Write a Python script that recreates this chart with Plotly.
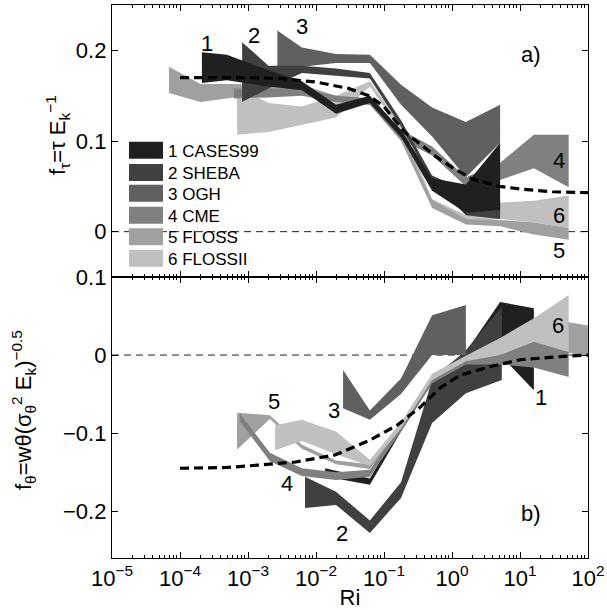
import plotly.graph_objects as go

# ---------------- data ----------------
names = ["1 CASES99", "2 SHEBA", "3 OGH", "4 CME", "5 FLOSS", "6 FLOSSII"]
colors = ["#202020", "#404040", "#606060", "#808080", "#a0a0a0", "#c0c0c0"]

# panel a) : f_tau bands (Ri, lower, upper)
a1_ri = [2.1e-4, 4.9e-4, 2.0e-3, 6.2e-3, 0.0197, 0.062, 0.178, 0.51, 1.6, 5.1]
a1_lo = [0.164, 0.167, 0.160, 0.156, 0.130, 0.142, 0.104, 0.045, 0.021, 0.024]
a1_hi = [0.198, 0.195, 0.178, 0.166, 0.140, 0.150, 0.112, 0.059, 0.052, 0.098]

a2_ri = [8.2e-4, 2.0e-3, 6.2e-3, 0.0197, 0.062, 0.178, 0.51, 1.6, 5.1]
a2_lo = [0.143, 0.158, 0.175, 0.172, 0.169, 0.116, 0.055, 0.018, 0.014]
a2_hi = [0.209, 0.183, 0.183, 0.180, 0.175, 0.123, 0.062, 0.045, 0.035]

a3_ri = [2.7e-3, 6.2e-3, 0.0197, 0.062, 0.178, 0.51, 1.6, 5.1]
a3_lo = [0.178, 0.182, 0.186, 0.186, 0.140, 0.105, 0.060, 0.098]
a3_hi = [0.222, 0.203, 0.196, 0.195, 0.162, 0.137, 0.121, 0.140]

a4_ri = [6.2e-4, 2.0e-3, 6.2e-3, 0.0197, 0.062, 0.178, 0.51, 1.6, 5.1, 16, 52]
a4_lo = [0.147, 0.148, 0.150, 0.143, 0.140, 0.102, 0.084, 0.050, 0.057, 0.070, 0.049]
a4_hi = [0.158, 0.158, 0.158, 0.150, 0.147, 0.112, 0.094, 0.060, 0.076, 0.107, 0.107]

a5_ri = [6.9e-5, 2.0e-4, 6.2e-4, 2.0e-3, 6.2e-3, 0.0197, 0.062, 0.178, 0.51, 1.6, 5.1, 16, 52]
a5_lo = [0.153, 0.143, 0.148, 0.150, 0.153, 0.143, 0.140, 0.100, 0.026, 0.008, 0.006, -0.003, -0.009]
a5_hi = [0.182, 0.163, 0.163, 0.162, 0.162, 0.150, 0.147, 0.108, 0.035, 0.014, 0.013, 0.010, 0.004]

a6_ri = [6.9e-4, 2.0e-3, 6.2e-3, 0.0197, 0.062, 0.178, 0.51, 1.6, 5.1, 16, 52]
a6_lo = [0.107, 0.110, 0.118, 0.126, 0.160, 0.110, 0.028, 0.010, 0.014, 0.010, 0.004]
a6_hi = [0.160, 0.142, 0.138, 0.150, 0.166, 0.118, 0.036, 0.018, 0.032, 0.034, 0.040]

# panel b) : f_theta bands (Ri, lower, upper)
b1_ri = [0.0136, 0.0197, 0.062, 0.178, 0.51, 1.6, 5.1, 16]
b1_lo = [-0.152, -0.158, -0.166, -0.098, -0.036, -0.004, 0.000, -0.045]
b1_hi = [-0.145, -0.148, -0.158, -0.090, -0.028, 0.004, 0.068, 0.060]

b2_ri = [6.9e-3, 0.0197, 0.062, 0.178, 0.51, 1.6, 5.4]
b2_lo = [-0.196, -0.192, -0.228, -0.183, -0.087, -0.049, -0.032]
b2_hi = [-0.156, -0.175, -0.212, -0.163, -0.032, 0.006, 0.062]

b3_ri = [0.025, 0.062, 0.178, 0.51, 1.6]
b3_lo = [-0.068, -0.083, -0.050, 0.000, 0.000]
b3_hi = [-0.019, -0.071, -0.030, 0.051, 0.064]

b4_ri = [7.6e-4, 2.1e-3, 6.2e-3, 0.0197, 0.062, 0.178, 0.51, 1.6, 5.1, 16, 52]
b4_lo = [-0.085, -0.136, -0.155, -0.160, -0.156, -0.098, -0.036, -0.012, -0.012, -0.016, -0.028]
b4_hi = [-0.075, -0.125, -0.145, -0.150, -0.147, -0.090, -0.028, -0.004, 0.004, 0.017, 0.004]

b5_ri = [6.9e-4, 2.1e-3, 6.2e-3, 0.0197, 0.062, 0.178, 0.51, 1.6, 5.1, 16, 52, 100]
b5_lo = [-0.121, -0.082, -0.120, -0.140, -0.146, -0.095, -0.033, -0.008, -0.004, 0.000, 0.003, -0.002]
b5_hi = [-0.074, -0.077, -0.115, -0.135, -0.140, -0.088, -0.026, -0.002, 0.015, 0.030, 0.042, 0.038]

b6_ri = [2.5e-3, 6.2e-3, 0.0197, 0.062, 0.178, 0.51, 1.6, 5.1, 16, 52]
b6_lo = [-0.122, -0.110, -0.127, -0.142, -0.094, -0.032, -0.008, 0.000, 0.017, 0.004]
b6_hi = [-0.090, -0.083, -0.098, -0.134, -0.086, -0.024, -0.001, 0.022, 0.047, 0.077]

# fitted dashed curves
fa_ri = [1e-4, 1e-3, 3e-3, 1e-2, 0.03, 0.06, 0.1, 0.2, 0.35, 0.6, 1, 2, 5, 10, 30, 100]
fa_val = [0.170, 0.170, 0.169, 0.165, 0.158, 0.150, 0.138, 0.110, 0.096, 0.082, 0.071, 0.058, 0.050, 0.047, 0.044, 0.043]
fb_ri = [1e-4, 5e-4, 1.4e-3, 5e-3, 0.019, 0.062, 0.155, 0.34, 0.67, 1.3, 3.6, 10, 39, 100]
fb_val = [-0.145, -0.144, -0.141, -0.137, -0.128, -0.109, -0.090, -0.067, -0.042, -0.026, -0.015, -0.006, -0.002, 0.0]

# ticks and titles
xtick_vals = [1e-5, 1e-4, 1e-3, 1e-2, 1e-1, 1e0, 1e1, 1e2]
xtick_text = ["10<sup>\u22125</sup>", "10<sup>\u22124</sup>", "10<sup>\u22123</sup>", "10<sup>\u22122</sup>",
              "10<sup>\u22121</sup>", "10<sup>0</sup>", "10<sup>1</sup>", "10<sup>2</sup>"]
ya_ticks = [0, 0.1, 0.2]
ya_text = ["0", "0.1", "0.2"]
yb_ticks = [-0.2, -0.1, 0, 0.1]
yb_text = ["\u22120.2", "\u22120.1", "0", "0.1"]
ya_title = "f<sub>\u03c4</sub>=\u03c4 E<sub>k</sub><sup>\u22121</sup>"
yb_title = "f<sub>\u03b8</sub>=w\u03b8(\u03c3<sub>\u03b8</sub><sup>2</sup> E<sub>k</sub>)<sup>\u22120.5</sup>"

panel_a = [(a1_ri, a1_lo, a1_hi), (a2_ri, a2_lo, a2_hi), (a3_ri, a3_lo, a3_hi),
           (a4_ri, a4_lo, a4_hi), (a5_ri, a5_lo, a5_hi), (a6_ri, a6_lo, a6_hi)]
panel_b = [(b1_ri, b1_lo, b1_hi), (b2_ri, b2_lo, b2_hi), (b3_ri, b3_lo, b3_hi),
           (b4_ri, b4_lo, b4_hi), (b5_ri, b5_lo, b5_hi), (b6_ri, b6_lo, b6_hi)]

FONT = "Liberation Sans, Arial, Helvetica, sans-serif"
fig = go.Figure()


def band(ri, lo, hi, color, xa, ya):
    return go.Scatter(x=list(ri) + list(ri)[::-1], y=list(hi) + list(lo)[::-1],
                      fill="toself", fillcolor=color, mode="lines",
                      line=dict(width=0, color=color), xaxis=xa, yaxis=ya,
                      showlegend=False, hoverinfo="skip")


# panel a: lighter first, darkest on top
for i in [5, 4, 3, 2, 1, 0]:
    ri, lo, hi = panel_a[i]
    fig.add_trace(band(ri, lo, hi, colors[i], "x2", "y2"))
# panel b
for i in [0, 1, 2, 4, 3, 5]:
    ri, lo, hi = panel_b[i]
    fig.add_trace(band(ri, lo, hi, colors[i], "x", "y"))

fig.add_trace(go.Scatter(x=fa_ri, y=fa_val, mode="lines", xaxis="x2", yaxis="y2",
                         line=dict(color="black", width=3.2, dash="9px,5px"), showlegend=False))
fig.add_trace(go.Scatter(x=fb_ri, y=fb_val, mode="lines", xaxis="x", yaxis="y",
                         line=dict(color="black", width=3.2, dash="9px,5px"), showlegend=False))

# plot-area geometry in pixels
L, R, T, B = 112, 588, 5, 558
W, H = 607, 610
split = (B - 277) / (B - T)

axis_common = dict(showline=True, linecolor="black", linewidth=1.3, mirror="ticks",
                   ticks="inside", tickcolor="black", ticklen=6, tickwidth=1,
                   showgrid=False, zeroline=False, automargin=False,
                   tickfont=dict(family=FONT, size=22, color="black"))
minor_vals = [m * 10 ** e for e in range(-5, 2) for m in range(2, 10)]
xcommon = dict(axis_common, type="log", range=[-5, 2], tickmode="array",
               tickvals=xtick_vals,
               minor=dict(tickmode="array", tickvals=minor_vals, ticks="inside",
                          ticklen=3, tickcolor="black", showgrid=False))

fig.update_layout(
    width=W, height=H,
    margin=dict(l=L, r=W - R, t=T, b=H - B, pad=0),
    paper_bgcolor="white", plot_bgcolor="white",
    font=dict(family=FONT, size=22, color="black"),
    showlegend=False,
    xaxis=dict(xcommon, anchor="y", domain=[0, 1], ticktext=xtick_text,
               title=dict(text="Ri", font=dict(family=FONT, size=22), standoff=0)),
    xaxis2=dict(xcommon, anchor="y2", domain=[0, 1], matches="x", showticklabels=False,
                ticktext=xtick_text),
    yaxis=dict(axis_common, domain=[0, split], range=[-0.26, 0.1], tickmode="array",
               tickvals=yb_ticks, ticktext=yb_text, anchor="x"),
    yaxis2=dict(axis_common, domain=[split, 1], range=[-0.05, 0.25], tickmode="array",
                tickvals=ya_ticks, ticktext=ya_text, anchor="x2"),
)

shapes = [
    dict(type="rect", xref="x", yref="paper", x0=-1, x1=0, y0=0, y1=1,
         fillcolor="#e6e6e6", line=dict(width=0), layer="below"),
    dict(type="line", xref="x", yref="paper", x0=-0.602, x1=-0.602, y0=0, y1=1,
         line=dict(color="#505050", width=1.3, dash="8px,5px"), layer="below"),
    dict(type="line", xref="paper", yref="y2", x0=0, x1=1, y0=0, y1=0,
         line=dict(color="#202020", width=1, dash="7px,5px"), layer="below"),
    dict(type="line", xref="paper", yref="y", x0=0, x1=1, y0=0, y1=0,
         line=dict(color="#202020", width=1, dash="7px,5px"), layer="below"),
]


def px_x(p):
    return (p - L) / (R - L)


def px_y(p):
    return (B - p) / (B - T)


annotations = []
# y-axis titles (rotated)
annotations.append(dict(xref="paper", yref="paper", x=px_x(57), y=px_y(135), text=ya_title,
                        textangle=-90, showarrow=False, xanchor="center", yanchor="middle",
                        font=dict(family=FONT, size=22, color="black")))
annotations.append(dict(xref="paper", yref="paper", x=px_x(23), y=px_y(410), text=yb_title,
                        textangle=-90, showarrow=False, xanchor="center", yanchor="middle",
                        font=dict(family=FONT, size=22, color="black")))

# manual legend (patch + label)
leg_rows = [150.3, 172.5, 193.3, 215.3, 236.7, 258.3]
for i, yc in enumerate(leg_rows):
    shapes.append(dict(type="rect", xref="paper", yref="paper",
                       x0=px_x(129), x1=px_x(163), y0=px_y(yc + 8.5), y1=px_y(yc - 8.5),
                       fillcolor=colors[i], line=dict(width=0)))
    annotations.append(dict(xref="paper", yref="paper", x=px_x(166), y=px_y(yc + 1),
                            text=names[i], showarrow=False, xanchor="left", yanchor="middle",
                            font=dict(family=FONT, size=17, color="black")))

# curve labels (x in log10 units)
labels_a = [("1", -3.60, 0.207), ("2", -2.91, 0.216), ("3", -2.21, 0.226),
            ("4", 1.57, 0.078), ("6", 1.57, 0.018), ("5", 1.57, -0.021), ("a)", 1.16, 0.195)]
labels_b = [("5", -2.62, -0.060), ("3", -1.74, -0.071), ("4", -2.43, -0.164),
            ("2", -1.62, -0.229), ("1", 1.31, -0.054), ("6", 1.56, 0.038), ("b)", 1.16, -0.203)]
for t, x, y in labels_a:
    annotations.append(dict(xref="x2", yref="y2", x=x, y=y, text=t, showarrow=False,
                            xanchor="center", yanchor="middle",
                            font=dict(family=FONT, size=22, color="black")))
for t, x, y in labels_b:
    annotations.append(dict(xref="x", yref="y", x=x, y=y, text=t, showarrow=False,
                            xanchor="center", yanchor="middle",
                            font=dict(family=FONT, size=22, color="black")))

fig.update_layout(shapes=shapes, annotations=annotations)
fig.write_html("out.html", config={"displayModeBar": False},
               post_script="document.body.style.margin='0px';document.body.style.overflow='hidden';")
